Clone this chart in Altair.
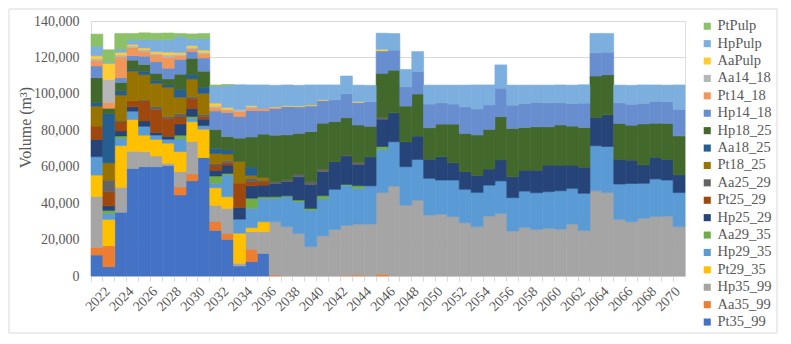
import altair as alt
import pandas as pd

years = list(range(2022, 2072))

# stack order, bottom -> top
series_names = ["Pt35_99", "Aa35_99", "Hp35_99", "Pt29_35", "Hp29_35", "Aa29_35",
                "Hp25_29", "Pt25_29", "Aa25_29", "Pt18_25", "Aa18_25", "Hp18_25",
                "Hp14_18", "Pt14_18", "Aa14_18", "AaPulp", "HpPulp", "PtPulp"]
series_colors = ["#4472C4", "#ED7D31", "#A5A5A5", "#FFC000", "#5B9BD5", "#70AD47",
                 "#264478", "#9E480E", "#636363", "#997300", "#255E91", "#43682B",
                 "#698ED0", "#F1975A", "#B7B7B7", "#FFCD33", "#7CAFDD", "#8CC168"]

Z35 = [0] * 35
Z34 = [0] * 34
Z25 = [0] * 25

pt35_99 = [11500, 5100, 35000, 59000, 60000, 60000, 60600, 44500, 52300, 65000, 25000, 20100, 5500, 7900, 12400] + Z35
aa35_99 = [4200, 11500, 0, 0, 0, 0, 0, 4400, 3700, 0, 4900, 3300, 0, 6800, 0,
           500, 0, 0, 0, 0, 0, 300, 500, 0, 1000] + Z25
hp35_99 = [28000, 0, 13700, 9500, 8200, 5900, 1300, 8400, 17900, 0, 8900, 13700, 1500, 9700, 11900,
           29300, 27100, 23400, 16100, 22000, 25600, 27500, 28000, 28500, 44800,
           49400, 39000, 41700, 33500, 34000, 32600, 29300, 27100, 32900, 34400, 24700, 26700, 25600,
           26200, 25800, 28500, 24900, 46800, 45800, 31100, 29800, 31700, 32600, 32900, 27100]
pt29_35 = [11700, 14500, 22900, 17400, 9100, 9100, 11000, 11000, 10800, 15600, 9700, 6400, 16500, 2200, 5500] + Z35
hp29_35 = [10100, 3300, 4000, 4600, 4900, 2400, 2200, 7000, 1800, 2000, 2400, 11900, 7700, 10600, 12800,
           12800, 16500, 17400, 20100, 20300, 22000, 22000, 19600, 21000, 23800,
           24300, 21000, 22300, 20100, 18700, 20100, 18300, 18800, 17000, 17800, 18300, 19900, 20100,
           20100, 21000, 19600, 20500, 24700, 25300, 19400, 21000, 19200, 20700, 19800, 18700]
aa29_35 = [0, 1600, 1300, 0, 0, 0, 0, 2000, 1100, 0, 4000, 900, 0, 5500, 900,
           900, 400, 900, 900, 1800, 0, 500, 1500, 0, 1500] + Z25
hp25_29 = [9500, 2500, 2700, 2400, 2900, 1300, 1500, 6200, 4400, 3500, 3100, 4600, 6400, 6800, 6400,
           7300, 7900, 12800, 13200, 13200, 15200, 15600, 11700, 15900, 15000,
           15900, 13700, 12800, 10400, 12800, 9500, 9700, 9200, 8800, 11500, 11500, 11500, 12400,
           14600, 14100, 12800, 14300, 15600, 17400, 13500, 12800, 10100, 11900, 11300, 9700]
pt25_29 = [7300, 7700, 5000, 3300, 11300, 12800, 10000, 3800, 5500, 1600, 2900, 1300, 13400, 2400, 2200] + Z35
aa25_29 = [0, 6400, 500, 0, 500, 1500, 900, 1800, 900, 1000, 900, 1100, 0, 1800, 500,
           900, 900, 1500, 1500, 1300, 0, 500, 1100, 0, 1000] + Z25
pt18_25 = [11000, 9500, 14300, 16300, 13700, 12800, 16100, 9100, 9800, 11600, 5500, 3700, 11900, 1500, 1500] + Z35
aa18_25 = [2000, 27100, 2300, 1100, 1800, 1500, 1300, 4300, 2500, 3300, 2900, 2200, 0, 4600, 0] + Z35
hp18_25 = [13600, 2900, 4600, 4900, 3700, 4000, 3300, 8300, 8800, 8800, 10200, 7300, 12800, 16500, 23800,
           25600, 24700, 22300, 27500, 25300, 22000, 20500, 20500, 16800, 24200,
           23400, 19600, 23100, 17400, 17900, 21200, 21000, 22300, 21800, 23800, 26500, 23400, 23800,
           21000, 22000, 21400, 21800, 22700, 22000, 19800, 19200, 22500, 18700, 19800, 21400]
hp14_18 = [6400, 0, 2600, 2500, 4600, 6400, 5900, 8100, 3800, 7300, 10200, 13200, 11900, 14600, 12800,
           14600, 15600, 14600, 14100, 12400, 11900, 13200, 12300, 13400, 12300,
           11000, 10600, 12300, 13000, 11700, 11000, 14600, 14300, 13400, 15600, 12800, 13200, 13400,
           13200, 12300, 12400, 13400, 12800, 12300, 11300, 11500, 11300, 11900, 11900, 14600]
pt14_18 = [3100, 3200, 11400, 4400, 2700, 3700, 6000, 2000, 1400, 2200, 1800, 1400, 2700, 1300, 1300, 600] + Z34
aa14_18 = [1000, 12600, 1000, 900, 900, 900, 1300, 900, 900, 900, 900, 500, 1300, 900, 0] + Z35
aa_pulp = [1500, 8800, 1500, 900, 900, 900, 1500, 900, 900, 1200, 1600, 900, 0, 500, 0,
           300, 500, 500, 500, 400, 0, 0, 500, 0, 900] + Z25
hp_pulp = [5300, 700, 1800, 2400, 4600, 6400, 6800, 8800, 3700, 6400, 9400, 12300, 13400, 11300, 12900,
           11900, 11300, 11300, 11000, 8200, 8200, 9700, 9100, 9100, 8800,
           9100, 9500, 11000, 10400, 9700, 10400, 11900, 13200, 11000, 12800, 11000, 10100, 9500,
           9700, 9700, 10100, 10100, 10600, 10400, 9700, 10400, 10100, 9100, 9100, 13400]
pt_pulp = [6600, 6800, 8500, 3500, 3700, 3700, 3700, 1600, 2700, 2700, 600, 300, 0, 0, 0] + Z35

series_values = [pt35_99, aa35_99, hp35_99, pt29_35, hp29_35, aa29_35, hp25_29, pt25_29,
                 aa25_29, pt18_25, aa18_25, hp18_25, hp14_18, pt14_18, aa14_18, aa_pulp,
                 hp_pulp, pt_pulp]

y_ticks = [0, 20000, 40000, 60000, 80000, 100000, 120000, 140000]

rows = []
for k, (name, vals) in enumerate(zip(series_names, series_values)):
    for yr, v in zip(years, vals):
        if v > 0:
            rows.append({"year": yr, "series": name, "value": v, "k": k})
df = pd.DataFrame(rows)

legend_order = series_names[::-1]
legend_colors = series_colors[::-1]

FONT = "Liberation Serif"
TXT = "#595959"
GRID = "#d9d9d9"
W, H = 594, 255

color_scale = alt.Scale(domain=legend_order, range=legend_colors)

bars = alt.Chart(df).mark_bar(strokeWidth=0.6).encode(
    x=alt.X("year:O",
            scale=alt.Scale(paddingInner=0, paddingOuter=0),
            axis=alt.Axis(title=None, labelAngle=-45, labelFont=FONT, labelFontSize=14,
                          labelColor=TXT, domainColor=GRID, tickColor=GRID, tickSize=5,
                          bandPosition=0, labelOffset=6, labelOverlap=False, labelPadding=3,
                          labelExpr="datum.value % 2 == 0 ? datum.label : ''")),
    y=alt.Y("value:Q", stack="zero",
            scale=alt.Scale(domain=[0, 140000], nice=False),
            axis=alt.Axis(title="Volume (m³)", values=y_ticks, format=",.0f", domain=False,
                          ticks=False, gridColor=GRID, labelFont=FONT, labelFontSize=14,
                          labelColor=TXT, labelPadding=12, titleFont=FONT, titleFontSize=16,
                          titleFontWeight="normal", titleColor=TXT, titleAngle=-90,
                          titleX=-66, titleY=106, titleAlign="center", titleBaseline="middle")),
    color=alt.Color("series:N", scale=color_scale,
                    legend=alt.Legend(title=None, orient="none", legendX=609, legendY=-2,
                                      symbolType="square", symbolSize=50, symbolStrokeWidth=0,
                                      labelFont=FONT, labelFontSize=14.5, labelColor=TXT,
                                      rowPadding=2.4, labelOffset=3, padding=0)),
    stroke=alt.Stroke("series:N", scale=color_scale, legend=None),
    order=alt.Order("k:Q", sort="ascending"),
)

frame = alt.Chart(pd.DataFrame({"a": [0]})).mark_rect(
    fillOpacity=0, stroke=GRID, strokeWidth=1
).encode(
    x=alt.value(-82), x2=alt.value(686), y=alt.value(-12), y2=alt.value(312)
)

chart = alt.layer(frame, bars).properties(
    width=W, height=H,
    autosize=alt.AutoSizeParams(type="none"),
    padding={"left": 83, "top": 13, "right": 98, "bottom": 60},
).configure_view(strokeWidth=0).configure(font=FONT)

chart.save("out.html", embed_options={"renderer": "svg", "actions": False})
